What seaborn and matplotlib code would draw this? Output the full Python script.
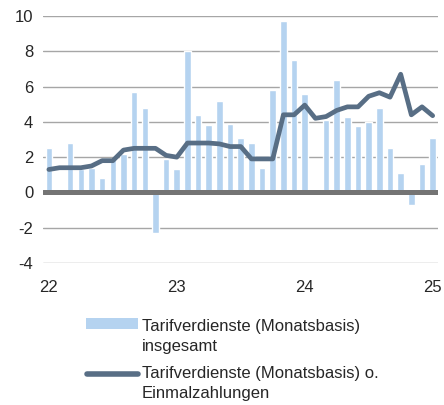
"""
Tarifverdienste: monthly bars (insgesamt) with line (ohne Einmalzahlungen)
"""

import numpy as np
import pandas as pd
import matplotlib
matplotlib.use("Agg")
import matplotlib.pyplot as plt
from matplotlib.patches import Rectangle
from matplotlib.lines import Line2D
import seaborn as sns

# monthly values, Jan 2022 .. Jan 2025
months = pd.date_range("2022-01", "2025-01", freq="MS")
insgesamt = [2.5, -0.1, 2.8, 1.3, 1.4, 0.8, 1.9, 2.2, 5.7, 4.8, -2.3, 1.9,
             1.3, 8.0, 4.4, 3.8, 5.2, 3.9, 3.1, 2.8, 1.4, 5.8, 9.7, 7.5,
             5.6, np.nan, 4.1, 6.4, 4.3, 3.75, 4.0, 4.8, 2.5, 1.1, -0.7, 1.6,
             3.1]
ohne_einmal = [1.3, 1.4, 1.4, 1.4, 1.5, 1.8, 1.8, 2.4, 2.5, 2.5, 2.5, 2.1,
               2.0, 2.8, 2.8, 2.8, 2.75, 2.6, 2.6, 1.9, 1.9, 1.9, 4.4, 4.4,
               4.95, 4.2, 4.3, 4.65, 4.85, 4.85, 5.45, 5.65, 5.4, 6.7, 4.4, 4.85,
               4.35]
year_ticks = [0, 12, 24, 36]
year_labels = ["22", "23", "24", "25"]
y_ticks = [-4, -2, 0, 2, 4, 6, 8, 10]
label_bars = "Tarifverdienste (Monatsbasis)\ninsgesamt"
label_line = "Tarifverdienste (Monatsbasis) o.\nEinmalzahlungen"

BAR_COLOR = "#B5D3F0"
LINE_COLOR = "#586E85"
ZERO_COLOR = "#747474"
GRID_COLOR = "#A6A6A6"
FS = 12

df = pd.DataFrame({"idx": np.arange(len(months)),
                   "insgesamt": insgesamt,
                   "ohne": ohne_einmal})

sns.set_theme(style="white")
plt.rcParams["font.family"] = ["Liberation Sans", "DejaVu Sans"]

W, H = 444, 405
fig = plt.figure(figsize=(W / 100, H / 100), dpi=100)
ax = fig.add_axes([43 / W, 1 - 263 / H, (438 - 43) / W, (263 - 16) / H])

for y in y_ticks:
    if y != 0:
        ax.axhline(y, color=GRID_COLOR, lw=1.0, zorder=0)

sns.barplot(data=df, x="idx", y="insgesamt", native_scale=True,
            color=BAR_COLOR, saturation=1, width=0.62, ax=ax, zorder=2)
ax.axhline(0, color=ZERO_COLOR, lw=3.6, zorder=3)
sns.lineplot(data=df, x="idx", y="ohne", color=LINE_COLOR, lw=3.4,
             ax=ax, zorder=4)

ax.set_xlim(-0.55, 36.5)
ax.set_ylim(-4, 10)
ax.set_xticks(year_ticks)
ax.set_xticklabels(year_labels, fontsize=FS)
ax.set_yticks(y_ticks)
ax.set_yticklabels([str(v) for v in y_ticks], fontsize=FS)
ax.tick_params(axis="x", length=0, pad=12)
ax.tick_params(axis="y", length=0, pad=7)
ax.set_xlabel("")
ax.set_ylabel("")
for s in ax.spines.values():
    s.set_visible(False)

# legend below the plot, handles aligned with the first text line
def fy(py):
    return 1 - py / H

fig.add_artist(Rectangle((86 / W, fy(329)), 52 / W, 11 / H,
                         transform=fig.transFigure, color=BAR_COLOR, lw=0))
fig.add_artist(Line2D([87 / W, 138 / W], [fy(373.5), fy(373.5)],
                      transform=fig.transFigure, color=LINE_COLOR, lw=4,
                      solid_capstyle="round"))
fig.text(142 / W, fy(319), label_bars, fontsize=FS, va="top", ha="left",
         linespacing=1.45)
fig.text(142 / W, fy(366), label_line, fontsize=FS, va="top", ha="left",
         linespacing=1.45)

fig.savefig("out.png", dpi=100)
